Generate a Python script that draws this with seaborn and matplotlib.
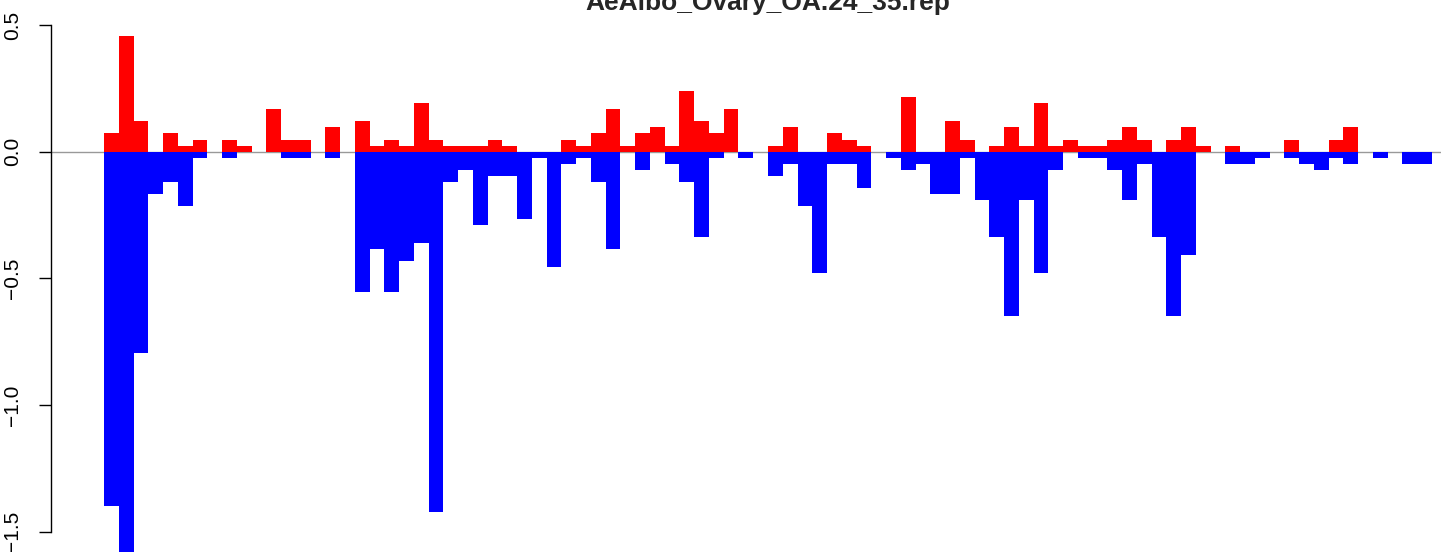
import numpy as np
import pandas as pd
import matplotlib
matplotlib.use('Agg')
import matplotlib.pyplot as plt
import seaborn as sns

# values per bin (positive = red, negative = blue)
up = [0.072, 0.458, 0.12, 0, 0.072, 0.024, 0.048, 0, 0.048, 0.024,
      0, 0.168, 0.048, 0.048, 0, 0.096, 0, 0.12, 0.024, 0.048,
      0.024, 0.192, 0.048, 0.024, 0.024, 0.024, 0.048, 0.024, 0, 0,
      0, 0.048, 0.024, 0.072, 0.168, 0.024, 0.072, 0.096, 0.024, 0.24,
      0.12, 0.072, 0.168, 0, 0, 0.024, 0.096, 0, 0, 0.072,
      0.048, 0.024, 0, 0, 0.216, 0, 0, 0.12, 0.048, 0,
      0.024, 0.096, 0.024, 0.192, 0.024, 0.048, 0.024, 0.024, 0.048, 0.096,
      0.048, 0, 0.048, 0.096, 0.024, 0, 0.024, 0, 0, 0,
      0.048, 0, 0, 0.048, 0.096, 0, 0, 0, 0, 0]
down = [-1.399, -1.58, -0.795, -0.168, -0.12, -0.216, -0.024, 0, -0.024, 0,
        0, 0, -0.024, -0.024, 0, -0.024, 0, -0.552, -0.384, -0.552,
        -0.432, -0.36, -1.422, -0.12, -0.072, -0.288, -0.096, -0.096, -0.264, -0.024,
        -0.456, -0.048, -0.024, -0.12, -0.384, 0, -0.072, 0, -0.048, -0.12,
        -0.336, -0.024, 0, -0.024, 0, -0.096, -0.048, -0.216, -0.48, -0.048,
        -0.048, -0.144, 0, -0.024, -0.072, -0.048, -0.168, -0.168, -0.024, -0.192,
        -0.336, -0.648, -0.192, -0.48, -0.072, 0, -0.024, -0.024, -0.072, -0.192,
        -0.048, -0.336, -0.648, -0.408, 0, 0, -0.048, -0.048, -0.024, 0,
        -0.024, -0.048, -0.072, -0.024, -0.048, 0, -0.024, 0, -0.048, -0.048]
title = 'AeAlbo_Ovary_OA.24_35.rep'
yticks = [-1.5, -1.0, -0.5, 0.0, 0.5]

df = pd.DataFrame({'bin': np.arange(len(up)), 'up': up, 'down': down})

sns.set_theme(style="white")
plt.rcParams['font.family'] = ['Liberation Sans', 'DejaVu Sans']

fig = plt.figure(figsize=(14.41, 5.52), dpi=100)
# plot region is wider/taller than the image, like the cropped R device
ax = fig.add_axes([51 / 1441, -8 / 552, 1434 / 1441, 540 / 552])

ax.axhline(0, color='#999999', lw=1, zorder=0)
sns.barplot(data=df, x='bin', y='up', color='#ff0000', width=1, saturation=1,
            linewidth=0, errorbar=None, ax=ax, zorder=2)
sns.barplot(data=df, x='bin', y='down', color='#0000ff', width=1, saturation=1,
            linewidth=0, errorbar=None, ax=ax, zorder=2)

ax.set_xlim(-4.1, 93.1)
ax.set_ylim(-1.612, 0.52)
ax.set_xticks([])
ax.set_xlabel('')
ax.set_ylabel('')
ax.set_yticks(yticks)
ax.set_yticklabels([f'{t:.1f}'.replace('-', '\u2212') for t in yticks],
                   rotation=90, va='center', fontsize=15)
ax.tick_params(axis='y', direction='out', length=9, width=1, pad=12,
               left=True, color='black', labelcolor='black')
for s in ['top', 'right', 'bottom']:
    ax.spines[s].set_visible(False)
ax.spines['left'].set_bounds(-1.5, 0.5)
ax.spines['left'].set_color('black')
ax.spines['left'].set_linewidth(1)

fig.text(767.5 / 1441, 1 - 10 / 552, title, ha='center', va='baseline',
         fontsize=19, fontweight='bold')

fig.savefig('out.png', dpi=100)
